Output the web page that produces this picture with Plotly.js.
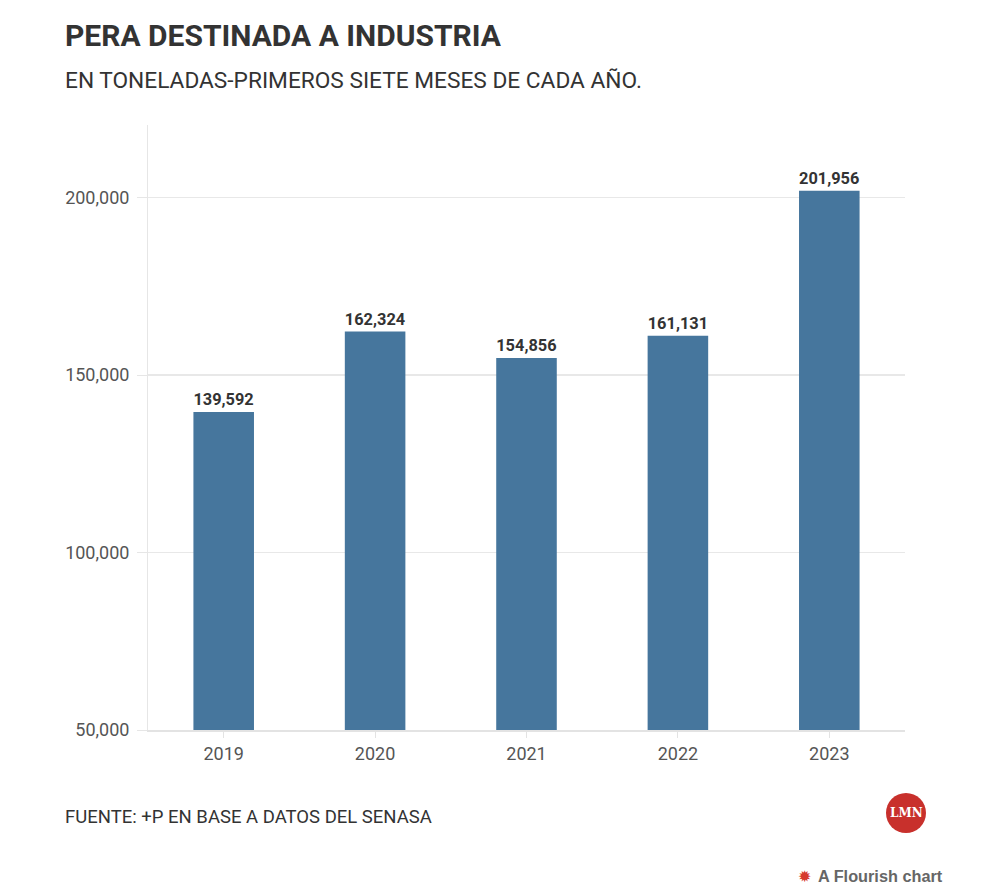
<!DOCTYPE html>
<html>
<head>
<meta charset="utf-8">
<script src="https://cdn.plot.ly/plotly-3.0.1.min.js"></script>
<style>
  html, body { margin: 0; padding: 0; background: #ffffff; }
  #chart { width: 981px; height: 896px; }
</style>
</head>
<body>
<div id="chart"></div>
<script>
const years = ["2019", "2020", "2021", "2022", "2023"];
const toneladas = [139592, 162324, 154856, 161131, 201956];
const yTicks = [50000, 100000, 150000, 200000];
const yTickLabels = ["50,000", "100,000", "150,000", "200,000"];

const FONT = "Roboto, 'Open Sans', sans-serif";

const trace = {
  type: "bar",
  x: years,
  y: toneladas,
  marker: { color: "#46769d" },
  texttemplate: "%{y:,d}",
  textposition: "outside",
  outsidetextfont: { family: FONT, size: 17, color: "#333333", weight: 700 },
  cliponaxis: false,
  hoverinfo: "none"
};

const px = (p) => (p - 148) / 757;
const py = (p) => (730 - p) / 605;

const layout = {
  width: 981,
  height: 896,
  margin: { l: 148, r: 76, t: 125, b: 166 },
  paper_bgcolor: "#ffffff",
  plot_bgcolor: "#ffffff",
  showlegend: false,
  bargap: 0.6,
  font: { family: FONT, color: "#444444" },
  xaxis: {
    type: "category",
    showgrid: false,
    showline: true,
    linecolor: "#e3e3e3",
    linewidth: 2,
    ticks: "outside",
    ticklen: 6,
    tickcolor: "#e3e3e3",
    tickfont: { family: FONT, size: 18, color: "#555555" },
    fixedrange: true
  },
  yaxis: {
    range: [50000, 220500],
    tickvals: yTicks,
    ticktext: yTickLabels,
    showgrid: true,
    gridcolor: "#e8e8e8",
    gridwidth: 1.5,
    showline: true,
    linecolor: "#e6e6e6",
    linewidth: 1,
    zeroline: false,
    ticks: "outside",
    ticklen: 10,
    tickcolor: "#e6e6e6",
    ticklabelstandoff: 4,
    tickfont: { family: FONT, size: 18, color: "#555555" },
    fixedrange: true
  },
  shapes: [
    {
      type: "circle", xref: "paper", yref: "paper",
      x0: px(886), x1: px(926), y0: py(833), y1: py(793),
      fillcolor: "#c8302c", line: { width: 0 }
    }
  ],
  annotations: [
    {
      xref: "paper", yref: "paper", x: px(63), y: py(35),
      xanchor: "left", yanchor: "middle", showarrow: false,
      text: "<b>PERA DESTINADA A INDUSTRIA</b>",
      font: { family: FONT, size: 30, color: "#333333" }
    },
    {
      xref: "paper", yref: "paper", x: px(63), y: py(80),
      xanchor: "left", yanchor: "middle", showarrow: false,
      text: "EN TONELADAS-PRIMEROS SIETE MESES DE CADA AÑO.",
      font: { family: FONT, size: 22.7, color: "#333333" }
    },
    {
      xref: "paper", yref: "paper", x: px(63), y: py(817),
      xanchor: "left", yanchor: "middle", showarrow: false,
      text: "FUENTE: +P EN BASE A DATOS DEL SENASA",
      font: { family: FONT, size: 18.5, color: "#333333" }
    },
    {
      xref: "paper", yref: "paper", x: px(906), y: py(813),
      xanchor: "center", yanchor: "middle", showarrow: false,
      text: "<b>LMN</b>",
      font: { family: "'DejaVu Serif', 'Liberation Serif', serif", size: 12, color: "#ffffff" }
    },
    {
      xref: "paper", yref: "paper", x: px(804), y: py(876),
      xanchor: "center", yanchor: "middle", showarrow: false,
      text: "✹",
      font: { family: "'DejaVu Sans', sans-serif", size: 16, color: "#d63a2f" }
    },
    {
      xref: "paper", yref: "paper", x: px(816), y: py(876),
      xanchor: "left", yanchor: "middle", showarrow: false,
      text: "<b>A Flourish chart</b>",
      font: { family: "'Liberation Sans', Arial, sans-serif", size: 16.3, color: "#666666" }
    }
  ]
};

Plotly.newPlot("chart", [trace], layout, { displayModeBar: false, staticPlot: true });
</script>
</body>
</html>
